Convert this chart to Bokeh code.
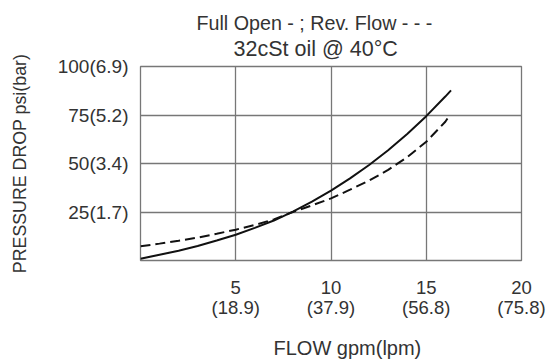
from bokeh.plotting import figure
from bokeh.models import FixedTicker, Range1d, Title, LinearAxis
from bokeh.embed import file_html
from bokeh.resources import INLINE

# Data
flow_full = [0, 1, 2, 3, 4, 5, 6, 7, 8, 9, 10, 11, 12, 13, 14, 15, 16, 16.3]
dp_full = [0.9, 3.0, 5.0, 7.5, 10.3, 13.3, 16.8, 20.6, 25.2, 30.3, 36.0, 42.3, 49.2, 56.8, 65.2, 74.4, 84.5, 87.7]
flow_rev = [0, 1, 2, 3, 4, 5, 6, 7, 8, 9, 10, 11, 12, 13, 14, 15, 16, 16.2]
dp_rev = [7.3, 8.7, 10.2, 11.8, 13.8, 15.9, 18.3, 21.2, 25.0, 28.4, 32.0, 36.5, 41.2, 46.7, 53.3, 61.2, 71.5, 74.5]

x_ticks = [5, 10, 15, 20]
x_tick_labels_gpm = ["5", "10", "15", "20"]
x_tick_labels_lpm = ["(18.9)", "(37.9)", "(56.8)", "(75.8)"]
y_ticks = [25, 50, 75, 100]
y_tick_labels = ["25(1.7)", "50(3.4)", "75(5.2)", "100(6.9)"]

title_line1 = "Full Open - ; Rev. Flow - - -"
title_line2 = "32cSt oil @ 40°C"
x_label = "FLOW gpm(lpm)"
y_label = "PRESSURE DROP psi(bar)"

FONT = "Liberation Sans"
TXT = "#333333"
GRID = "#777777"

p = figure(frame_width=381, frame_height=194, output_backend="svg", toolbar_location=None,
           x_range=Range1d(0, 20), y_range=Range1d(0, 100),
           min_border_left=140, min_border_right=36, min_border_top=0, min_border_bottom=0,
           background_fill_color="white", border_fill_color="white")
p.title = None

p.line(flow_full, dp_full, line_color="#111111", line_width=2)
p.line(flow_rev, dp_rev, line_color="#111111", line_width=2, line_dash="10 5")

x_lpm_axis = LinearAxis()
p.add_layout(x_lpm_axis, "below")

p.xaxis[0].major_label_overrides = dict(zip(x_ticks, x_tick_labels_gpm))
x_lpm_axis.major_label_overrides = dict(zip(x_ticks, x_tick_labels_lpm))
p.yaxis.major_label_overrides = dict(zip(y_ticks, y_tick_labels))
p.xgrid.ticker = FixedTicker(ticks=x_ticks)
p.ygrid.ticker = FixedTicker(ticks=y_ticks)

for ax in list(p.xaxis) + list(p.yaxis):
    ax.axis_line_color = None
    ax.major_tick_line_color = None
    ax.minor_tick_line_color = None
    ax.major_tick_out = 0
    ax.major_tick_in = 0
    ax.minor_tick_out = 0
    ax.minor_tick_in = 0
    ax.major_label_text_font = FONT
    ax.major_label_text_color = TXT

for ax in p.xaxis:
    ax.ticker = FixedTicker(ticks=x_ticks)
    ax.major_label_text_font_size = "18.5px"
p.yaxis.ticker = FixedTicker(ticks=y_ticks)

p.xaxis[0].major_label_standoff = 20
x_lpm_axis.major_label_standoff = 0
p.yaxis.major_label_text_font_size = "19px"
p.yaxis.major_label_standoff = 12

p.yaxis.axis_label = y_label
p.yaxis.axis_label_text_font = FONT
p.yaxis.axis_label_text_color = TXT
p.yaxis.axis_label_text_font_style = "normal"
p.yaxis.axis_label_text_font_size = "17.8px"
p.yaxis.axis_label_standoff = 25

p.xgrid.grid_line_color = GRID
p.ygrid.grid_line_color = GRID
p.xgrid.grid_line_width = 1.3
p.ygrid.grid_line_width = 1.3
p.outline_line_color = GRID
p.outline_line_width = 1.3

tstyle = dict(text_font=FONT, text_color=TXT, text_font_style="normal", align="left")

# above: first added is nearest the frame
t2 = Title(text=title_line2, text_font_size="21.5px", offset=93, standoff=7,
           vertical_align="top", **tstyle)
t1 = Title(text=title_line1, text_font_size="19.7px", offset=56, standoff=0, **tstyle)
sp_top = Title(text=" ", text_font_size="2px", standoff=5, **tstyle)
p.add_layout(t2, "above")
p.add_layout(t1, "above")
p.add_layout(sp_top, "above")

sp_bot = Title(text=" ", text_font_size="2px", standoff=9, **tstyle)
tx = Title(text=x_label, text_font_size="20px", offset=133, standoff=2, **tstyle)
p.add_layout(sp_bot, "below")
p.add_layout(tx, "below")

open("out.html", "w").write(file_html(p, INLINE))
